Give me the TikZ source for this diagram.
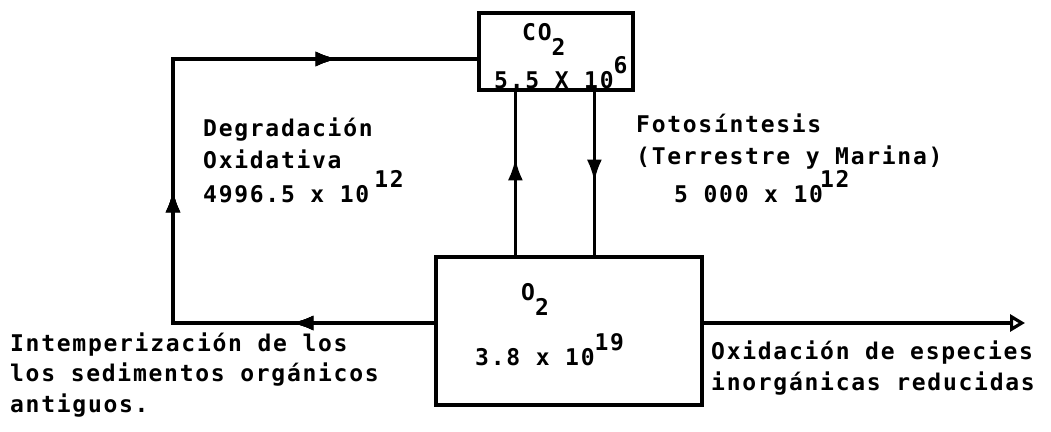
\documentclass[tikz,border=0pt]{standalone}
\usepackage{fontspec}
\usetikzlibrary{arrows.meta,decorations.markings}
\newfontfamily\typew{DejaVu Sans Mono}[LetterSpace=7.5]
\newcommand{\hi}[1]{\raisebox{15pt}{#1}}
\newcommand{\lo}[1]{\raisebox{-15pt}{#1}}

\tikzset{
  box/.style={draw, line width=3.2pt, inner sep=0pt},
  lbl/.style={inner sep=0pt, align=left, anchor=base west,
    font=\typew\bfseries\fontsize{23}{32}\selectfont},
  lbllow/.style={lbl, font=\typew\bfseries\fontsize{23}{30.5}\selectfont},
  flow/.style={line width=3.2pt},
  tip/.style={postaction={decorate}, decoration={markings,
    mark=at position #1 with {\arrow{Latex[length=22pt,width=15pt]}}}},
}
\begin{document}
\begin{tikzpicture}[x=1pt,y=-1pt]
\useasboundingbox (0,0) rectangle (1051,431);

% Boxes
\node[box, minimum width=154pt, minimum height=77pt] (co2) at (556,51.5) {};
\node[box, minimum width=266pt, minimum height=148pt] (o2) at (569,331) {};

\node[lbl] (co2name) at (522,40) {CO\lo{2}};
\node[lbl] (co2val) at (494,88) {5.5 X 10\hi{6}};
\node[lbl] (o2name) at (521,300) {O\lo{2}};
\node[lbl] (o2val) at (475,365) {3.8 x 10\hi{19}};

% Free ends
\coordinate (lowleft) at (173,323);
\coordinate (upleft) at (173,59);
\coordinate (sink) at (1025,323);

% Loop through the sediments
\draw[flow, tip=143pt, tip=394pt, tip=690pt]
  ([yshift=8pt]o2.west) -- (lowleft) -- (upleft) -- (co2.west |- upleft);

% Exchange between the boxes
\draw[flow, tip=97pt] ([xshift=81pt]o2.north west) -- ([xshift=81pt]o2.north west |- co2.south);
\draw[flow, tip=90pt] ([xshift=117pt]co2.south west) -- ([xshift=117pt]co2.south west |- o2.north);

% Outflow
\draw[flow, -{Triangle[open,length=15pt,width=17pt]}] ([yshift=8pt]o2.east) -- (sink);

% Labels (base = last line)
\node[lbl] (degr) at (203,202) {Degradación\\Oxidativa\\4996.5 x 10\hspace{5pt}\hi{12}};
\node[lbl] (foto) at (636,202) {Fotosíntesis\\(Terrestre y Marina)\\\hspace*{38pt}5 000 x 10\hspace{-3pt}\hi{12}};
\node[lbllow] (intemp) at (10,412) {Intemperización de los\\los sedimentos orgánicos\\antiguos.};
\node[lbllow] (oxid) at (711,390) {Oxidación de especies\\inorgánicas reducidas};
\end{tikzpicture}
\end{document}
